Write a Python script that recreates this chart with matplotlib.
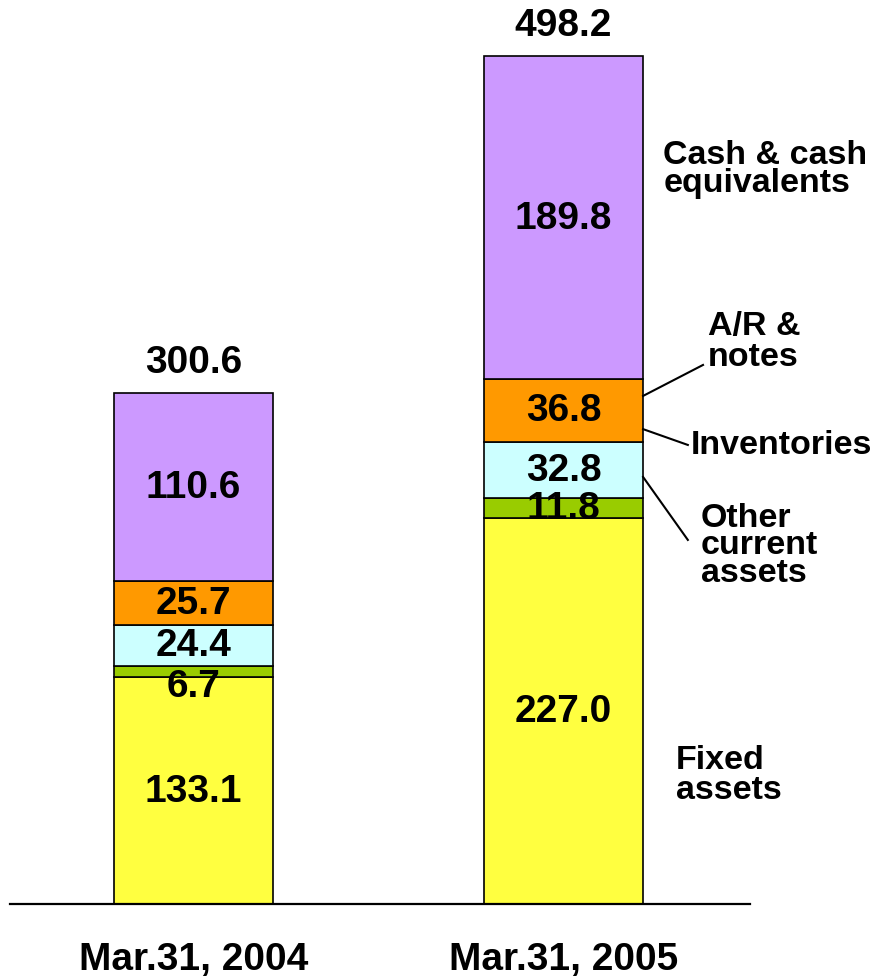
import matplotlib.pyplot as plt

dates = ['Mar.31, 2004', 'Mar.31, 2005']
fixed = [133.1, 227.0]
other = [6.7, 11.8]
invent = [24.4, 32.8]
ar = [25.7, 36.8]
cash = [110.6, 189.8]
totals = [300.6, 498.2]

series = [fixed, other, invent, ar, cash]
colors = ['#FFFF40', '#99CC00', '#CCFFFF', '#FF9900', '#CC99FF']

plt.rcParams['font.family'] = ['Liberation Sans', 'DejaVu Sans']
plt.rcParams['font.weight'] = 'bold'

fig = plt.figure(figsize=(8.81, 9.79), dpi=100)
ax = fig.add_axes([10/881, 74/979, 740/881, 905/979])

x = [0, 1]
w = 0.43
bottom = [0, 0]
for vals, c in zip(series, colors):
    ax.bar(x, vals, w, bottom=bottom, color=c, edgecolor='black', linewidth=1.2, zorder=2)
    for i in range(2):
        mid = bottom[i] + vals[i] / 2
        dy = -10 if vals[i] < 8 else 0
        ax.annotate('%.1f' % vals[i], (x[i], mid), xytext=(0, dy), textcoords='offset points',
                    ha='center', va='center', fontsize=28, fontweight='bold', zorder=3)
    bottom = [bottom[i] + vals[i] for i in range(2)]

for i in range(2):
    ax.annotate('%.1f' % totals[i], (x[i], totals[i]), xytext=(0, 22), textcoords='offset points',
                ha='center', va='center', fontsize=28, fontweight='bold')
    ax.annotate(dates[i], (x[i], 0), xytext=(0, -46.5), textcoords='offset points',
                ha='center', va='baseline', fontsize=28, fontweight='bold', annotation_clip=False)

# labels at right of second bar
ax.text(1.27, 432, 'Cash & cash\nequivalents', ha='left', va='center', fontsize=24.5,
        fontweight='bold', linespacing=0.9)
ax.text(1.391, 331, 'A/R &\nnotes', ha='left', va='center', fontsize=24.5,
        fontweight='bold', linespacing=1.0)
ax.text(1.345, 270, 'Inventories', ha='left', va='center', fontsize=24.5, fontweight='bold')
ax.text(1.371, 211, 'Other\ncurrent\nassets', ha='left', va='center', fontsize=24.5,
        fontweight='bold', linespacing=0.85)
ax.text(1.303, 76, 'Fixed\nassets', ha='left', va='center', fontsize=24.5,
        fontweight='bold', linespacing=0.95)

ax.plot([1.215, 1.377], [298.5, 316.7], color='black', lw=1.5, clip_on=False)
ax.plot([1.215, 1.336], [279.0, 269.7], color='black', lw=1.5, clip_on=False)
ax.plot([1.215, 1.336], [250.9, 213.9], color='black', lw=1.5, clip_on=False)

ax.set_xlim(-0.496, 1.504)
ax.set_ylim(0, 531.7)
for s in ['top', 'right', 'left']:
    ax.spines[s].set_visible(False)
ax.spines['bottom'].set_linewidth(1.6)
ax.spines['bottom'].set_zorder(4)
ax.set_xticks([])
ax.set_yticks([])

fig.savefig('out.png', dpi=100)
